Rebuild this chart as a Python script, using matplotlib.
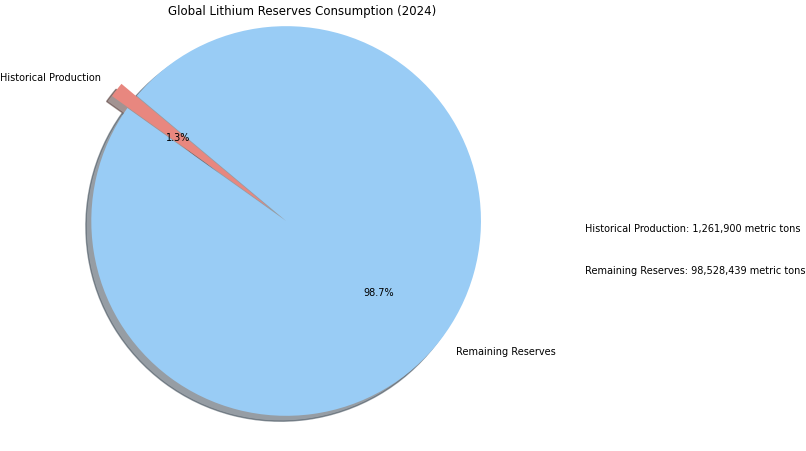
import matplotlib
matplotlib.use('Agg')
import matplotlib.pyplot as plt

labels = ['Historical Production', 'Remaining Reserves']
values = [1261900, 98528439]
colors = ['#E8877F', '#99CCF5']
explode = [0.1, 0]

fig = plt.figure(figsize=(8.06, 4.51), dpi=100)
ax = fig.add_axes([-0.02, -0.03, 0.75, 1.08])
ax.pie(values, labels=labels, colors=colors, explode=explode, autopct='%1.1f%%',
       shadow=True, startangle=140, textprops={'fontsize': 7})
ax.set_aspect('equal')
fig.suptitle('Global Lithium Reserves Consumption (2024)', x=0.375, y=0.99, fontsize=8.5)

fig.text(0.726, 0.485, 'Historical Production: 1,261,900 metric tons', fontsize=7)
fig.text(0.726, 0.393, 'Remaining Reserves: 98,528,439 metric tons', fontsize=7)

fig.savefig('out.png', dpi=100)
